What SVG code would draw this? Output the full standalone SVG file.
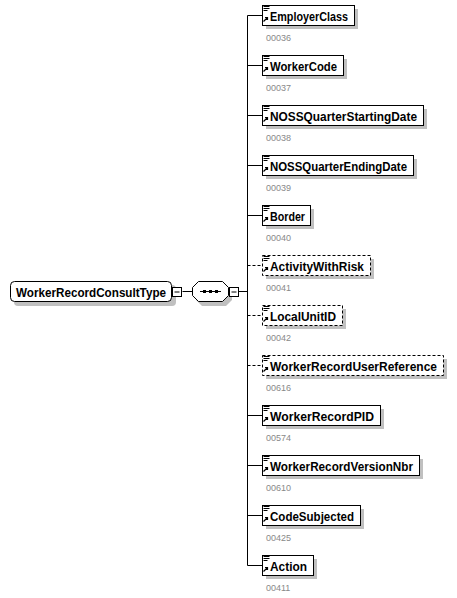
<svg xmlns="http://www.w3.org/2000/svg" width="457" height="598" viewBox="0 0 457 598">
<style>
.box{fill:#fff;stroke:#000;stroke-width:1}
.opt{fill:#fff;stroke:#000;stroke-width:1;stroke-dasharray:3,2}
.sh{fill:#c0c0c0}
.lbl{font-family:"Liberation Sans",Arial,sans-serif;font-weight:bold;font-size:13px;fill:#000}
.num{font-family:"Liberation Sans",Arial,sans-serif;font-size:9px;fill:#888}
.ln{stroke:#000;stroke-width:1;fill:none}
.dl{stroke:#000;stroke-width:1;fill:none;stroke-dasharray:3,2}
</style>
<defs>
<g id="ic">
<path d="M1.5,1.5h6M1.5,3.5h6M1.5,5.5h4" stroke="#000" stroke-width="1"/>
<path d="M1.5,16.5l4,-4M3,12.5h2.5v2.5" stroke="#000" stroke-width="1.2" fill="none"/>
</g>
</defs>
<g id="connectors">
<line class="ln" x1="182.5" y1="291.5" x2="192" y2="291.5"/>
<line class="ln" x1="239" y1="291.5" x2="247.5" y2="291.5"/>
<line class="ln" x1="247.5" y1="15.5" x2="247.5" y2="565.5"/>
<line class="ln" x1="247.5" y1="15.5" x2="262" y2="15.5"/>
<line class="ln" x1="247.5" y1="65.5" x2="262" y2="65.5"/>
<line class="ln" x1="247.5" y1="115.5" x2="262" y2="115.5"/>
<line class="ln" x1="247.5" y1="165.5" x2="262" y2="165.5"/>
<line class="ln" x1="247.5" y1="215.5" x2="262" y2="215.5"/>
<line class="dl" x1="247.5" y1="265.5" x2="262" y2="265.5"/>
<line class="dl" x1="247.5" y1="315.5" x2="262" y2="315.5"/>
<line class="dl" x1="247.5" y1="365.5" x2="262" y2="365.5"/>
<line class="ln" x1="247.5" y1="415.5" x2="262" y2="415.5"/>
<line class="ln" x1="247.5" y1="465.5" x2="262" y2="465.5"/>
<line class="ln" x1="247.5" y1="515.5" x2="262" y2="515.5"/>
<line class="ln" x1="247.5" y1="565.5" x2="262" y2="565.5"/>
</g>
<g id="root">
<rect class="sh" x="14" y="285" width="162" height="21" rx="4"/>
<rect class="box" x="10.5" y="281.5" width="161" height="20" rx="4"/>
<text class="lbl" x="16" y="296.5" textLength="150" lengthAdjust="spacingAndGlyphs">WorkerRecordConsultType</text>
<rect class="box" x="172.5" y="287.5" width="9" height="9"/>
<line class="ln" x1="174.5" y1="292" x2="179.5" y2="292"/>
</g>
<g id="sequence">
<path class="sh" d="M202,285h24l6,6v9l-6,6h-24l-6,-6v-9z"/>
<path class="box" d="M198.5,281.5h24l6,6v8l-6,6h-24l-6,-6v-8z"/>
<line class="ln" x1="200" y1="291.5" x2="221" y2="291.5"/>
<rect x="203" y="290" width="3" height="3" fill="#000"/>
<rect x="209" y="290" width="3" height="3" fill="#000"/>
<rect x="215" y="290" width="3" height="3" fill="#000"/>
<rect class="box" x="229.5" y="287.5" width="9" height="9"/>
<line class="ln" x1="231.5" y1="292" x2="236.5" y2="292"/>
</g>
<g id="EmployerClass">
<rect class="sh" x="266" y="9" width="92" height="20"/>
<rect class="box" x="262.5" y="5.5" width="92" height="20"/>
<use href="#ic" x="262" y="5"/>
<text class="lbl" x="270" y="20.5" textLength="78" lengthAdjust="spacingAndGlyphs">EmployerClass</text>
<text class="num" x="266" y="41">00036</text>
</g>
<g id="WorkerCode">
<rect class="sh" x="266" y="59" width="81" height="20"/>
<rect class="box" x="262.5" y="55.5" width="81" height="20"/>
<use href="#ic" x="262" y="55"/>
<text class="lbl" x="270" y="70.5" textLength="67" lengthAdjust="spacingAndGlyphs">WorkerCode</text>
<text class="num" x="266" y="91">00037</text>
</g>
<g id="NOSSQuarterStartingDate">
<rect class="sh" x="266" y="109" width="161" height="20"/>
<rect class="box" x="262.5" y="105.5" width="161" height="20"/>
<use href="#ic" x="262" y="105"/>
<text class="lbl" x="270" y="120.5" textLength="147" lengthAdjust="spacingAndGlyphs">NOSSQuarterStartingDate</text>
<text class="num" x="266" y="141">00038</text>
</g>
<g id="NOSSQuarterEndingDate">
<rect class="sh" x="266" y="159" width="151" height="20"/>
<rect class="box" x="262.5" y="155.5" width="151" height="20"/>
<use href="#ic" x="262" y="155"/>
<text class="lbl" x="270" y="170.5" textLength="137" lengthAdjust="spacingAndGlyphs">NOSSQuarterEndingDate</text>
<text class="num" x="266" y="191">00039</text>
</g>
<g id="Border">
<rect class="sh" x="266" y="209" width="48" height="20"/>
<rect class="box" x="262.5" y="205.5" width="48" height="20"/>
<use href="#ic" x="262" y="205"/>
<text class="lbl" x="270" y="220.5" textLength="35" lengthAdjust="spacingAndGlyphs">Border</text>
<text class="num" x="266" y="241">00040</text>
</g>
<g id="ActivityWithRisk">
<rect class="sh" x="266" y="259" width="108" height="20"/>
<rect class="opt" x="262.5" y="255.5" width="108" height="20"/>
<use href="#ic" x="262" y="255"/>
<text class="lbl" x="270" y="270.5" textLength="94" lengthAdjust="spacingAndGlyphs">ActivityWithRisk</text>
<text class="num" x="266" y="291">00041</text>
</g>
<g id="LocalUnitID">
<rect class="sh" x="266" y="309" width="80" height="20"/>
<rect class="opt" x="262.5" y="305.5" width="80" height="20"/>
<use href="#ic" x="262" y="305"/>
<text class="lbl" x="270" y="320.5" textLength="66" lengthAdjust="spacingAndGlyphs">LocalUnitID</text>
<text class="num" x="266" y="341">00042</text>
</g>
<g id="WorkerRecordUserReference">
<rect class="sh" x="266" y="359" width="181" height="20"/>
<rect class="opt" x="262.5" y="355.5" width="181" height="20"/>
<use href="#ic" x="262" y="355"/>
<text class="lbl" x="270" y="370.5" textLength="167" lengthAdjust="spacingAndGlyphs">WorkerRecordUserReference</text>
<text class="num" x="266" y="391">00616</text>
</g>
<g id="WorkerRecordPID">
<rect class="sh" x="266" y="409" width="118" height="20"/>
<rect class="box" x="262.5" y="405.5" width="118" height="20"/>
<use href="#ic" x="262" y="405"/>
<text class="lbl" x="270" y="420.5" textLength="104" lengthAdjust="spacingAndGlyphs">WorkerRecordPID</text>
<text class="num" x="266" y="441">00574</text>
</g>
<g id="WorkerRecordVersionNbr">
<rect class="sh" x="266" y="459" width="157" height="20"/>
<rect class="box" x="262.5" y="455.5" width="157" height="20"/>
<use href="#ic" x="262" y="455"/>
<text class="lbl" x="270" y="470.5" textLength="143" lengthAdjust="spacingAndGlyphs">WorkerRecordVersionNbr</text>
<text class="num" x="266" y="491">00610</text>
</g>
<g id="CodeSubjected">
<rect class="sh" x="266" y="509" width="98" height="20"/>
<rect class="box" x="262.5" y="505.5" width="98" height="20"/>
<use href="#ic" x="262" y="505"/>
<text class="lbl" x="270" y="520.5" textLength="84" lengthAdjust="spacingAndGlyphs">CodeSubjected</text>
<text class="num" x="266" y="541">00425</text>
</g>
<g id="Action">
<rect class="sh" x="266" y="559" width="51" height="20"/>
<rect class="box" x="262.5" y="555.5" width="51" height="20"/>
<use href="#ic" x="262" y="555"/>
<text class="lbl" x="270" y="570.5" textLength="37" lengthAdjust="spacingAndGlyphs">Action</text>
<text class="num" x="266" y="591">00411</text>
</g>
</svg>
